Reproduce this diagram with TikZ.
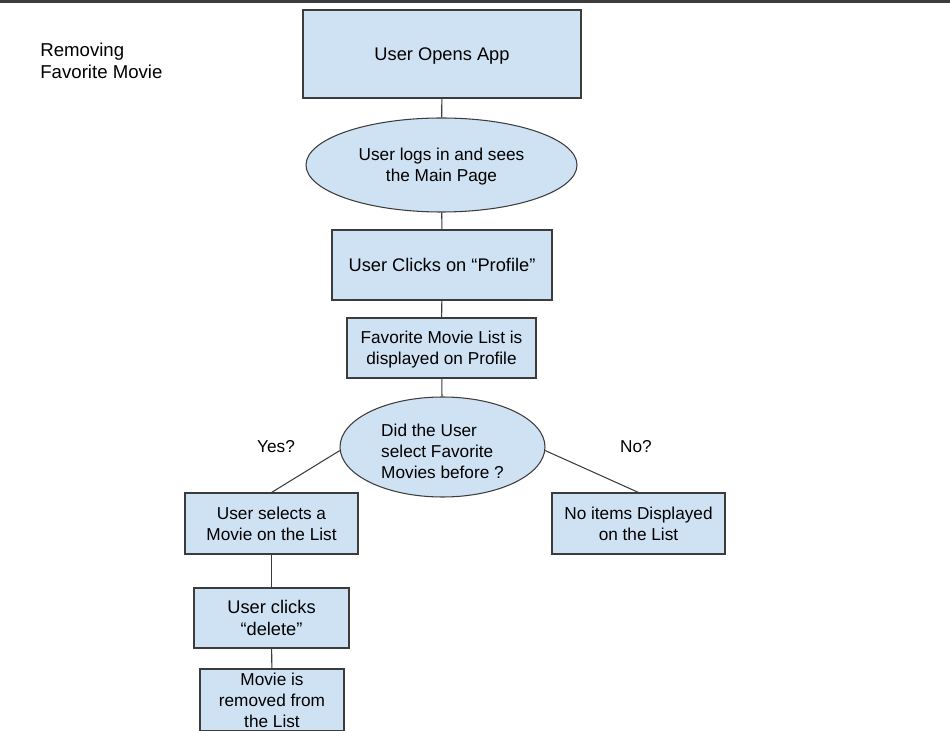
\documentclass[tikz,border=0pt]{standalone}
\usepackage{fontspec}
\setmainfont{Liberation Sans}
\usetikzlibrary{shapes.geometric}
\definecolor{boxblue}{HTML}{CFE2F3}
\definecolor{edge}{HTML}{3C3C3C}

\begin{document}
\begin{tikzpicture}[
	every node/.style = {font=\fontsize{9.8}{11.9}\selectfont},
	box/.style = {draw=edge, fill=boxblue, line width=.6pt, inner sep=0pt, align=center, text depth=0pt},
	oval/.style = {box, ellipse},
	big/.style = {font=\fontsize{10.4}{12.2}\selectfont},
	link/.style = {draw=edge, line width=.6pt}]
	\useasboundingbox (0,0) rectangle (19,-14.62);
	\fill [edge] (0,0) rectangle (19,-.07);
	\node [align=left, anchor=west, inner sep=0pt, font=\fontsize{10.6}{12.2}\selectfont] (title) at (.8,-1.22) {Removing\\Favorite Movie};
	\node [box, big, minimum width=5.56cm, minimum height=1.76cm] (open) at (8.84,-1.08) {User Opens App};
	\node [oval, minimum width=5.42cm, minimum height=1.88cm] (login) at (8.83,-3.3) {User logs in and sees\\the Main Page};
	\node [box, big, minimum width=4.4cm, minimum height=1.4cm] (profile) at (8.84,-5.3) {User Clicks on “Profile”};
	\node [box, minimum width=3.78cm, minimum height=1.2cm] (list) at (8.83,-6.96) {Favorite Movie List is\\displayed on Profile};
	\node [oval, align=left, text height=36pt, minimum width=4.1cm, minimum height=2cm] (ask) at (8.85,-8.94) {Did the User\\select Favorite\\Movies before ?};
	\node (yes) at (5.52,-8.94) {Yes?};
	\node (no) at (12.72,-8.94) {No?};
	\node [box, minimum width=3.46cm, minimum height=1.22cm] (select) at (5.43,-10.47) {User selects a\\Movie on the List};
	\node [box, minimum width=3.46cm, minimum height=1.22cm] (empty) at (12.77,-10.47) {No items Displayed\\on the List};
	\node [box, big, minimum width=3.1cm, minimum height=1.2cm] (delete) at (5.43,-12.36) {User clicks\\“delete”};
	\node [box, minimum width=2.88cm, minimum height=1.24cm] (removed) at (5.44,-14) {Movie is\\removed from\\the List};
	\draw [link] (open) -- (login);
	\draw [link] (login) -- (profile);
	\draw [link] (profile) -- (list);
	\draw [link] (list) -- (ask);
	\draw [link] (ask.182) -- (select.north);
	\draw [link] (ask.-2) -- (empty.north);
	\draw [link] (select) -- (delete);
	\draw [link] (delete) -- (removed);
\end{tikzpicture}
\end{document}
